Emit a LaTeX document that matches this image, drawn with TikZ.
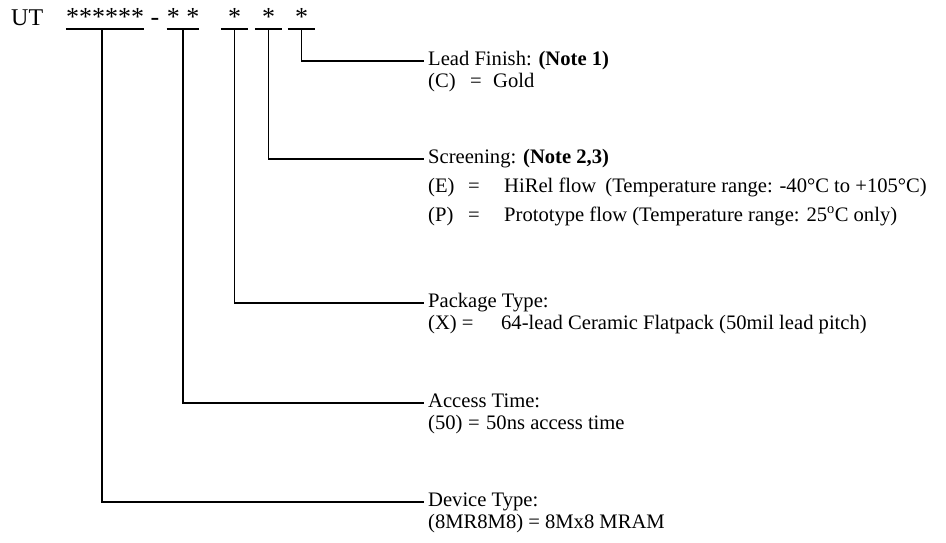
\documentclass[tikz,border=0pt]{standalone}
\usepackage{fontspec}
\setmainfont{Liberation Serif}
\tikzset{
    FD/.style ={anchor=base,inner sep=0pt,text depth=2.5pt,font=\fontsize{26}{26}\selectfont},
    LB/.style ={anchor=west,inner xsep=4pt,inner ysep=0pt,text height=13pt,text depth=4pt,font=\fontsize{20.6}{22}\selectfont},
    LN/.style ={line width=1.8pt}}

\begin{document}
\begin{tikzpicture}[x=1pt,y=-1pt]
        \useasboundingbox (0,0) rectangle (946,543);
        % part number fields
        \node[anchor=base west,inner sep=0pt,font=\fontsize{24}{24}\selectfont] (ut) at (11,26) {UT};
        \node[FD,minimum width=77pt] (dev) at (105,26) {******};
        \node[FD] (dash) at (155,26) {-};
        \node[FD,minimum width=32pt] (acc) at (183,26) {* *};
        \node[FD,minimum width=27pt] (pkg) at (234.5,26) {*};
        \node[FD,minimum width=27pt] (scr) at (268.5,26) {*};
        \node[FD,minimum width=27pt] (fin) at (301.5,26) {*};
        \coordinate (devtap) at ([xshift=-3pt]dev.south);
        \foreach \f in {dev,acc,pkg,scr,fin}{
            \draw[LN] (\f.south west) -- (\f.south east);}
        % labels
        \node[LB] (finlbl) at (424,61) {Lead Finish: \textbf{(Note 1)}};
        \node[LB] (finC) at (424,83) {\makebox[42pt][l]{(C)}\makebox[23pt][l]{=}Gold};
        \node[LB] (scrlbl) at (424,159) {Screening: \textbf{(Note 2,3)}};
        \node[LB] (scrE) at (424,188) {\makebox[40pt][l]{(E)}\makebox[36pt][l]{=}HiRel flow\hspace{4pt} (Temperature range: -40°C to +105°C)};
        \node[LB] (scrP) at (424,217) {\makebox[40pt][l]{(P)}\makebox[36pt][l]{=}Prototype flow (Temperature range: 25\textsuperscript{o}C only)};
        \node[LB] (pkglbl) at (424,303) {Package Type:};
        \node[LB] (pkgX) at (424,325) {\makebox[73pt][l]{(X) =}64-lead Ceramic Flatpack (50mil lead pitch)};
        \node[LB] (acclbl) at (424,403) {Access Time:};
        \node[LB] (acc50) at (424,425) {\makebox[40pt][l]{(50)}\makebox[18pt][l]{=}50ns access time};
        \node[LB] (devlbl) at (424,502) {Device Type:};
        \node[LB] (dev8) at (424,524) {(8MR8M8) = 8Mx8 MRAM};
        % connectors
        \foreach \f/\l in {devtap/devlbl,acc.south/acclbl,pkg.south/pkglbl,scr.south/scrlbl,fin.south/finlbl}{
            \draw[LN] (\f) |- (\l.west);}
\end{tikzpicture}
\end{document}
